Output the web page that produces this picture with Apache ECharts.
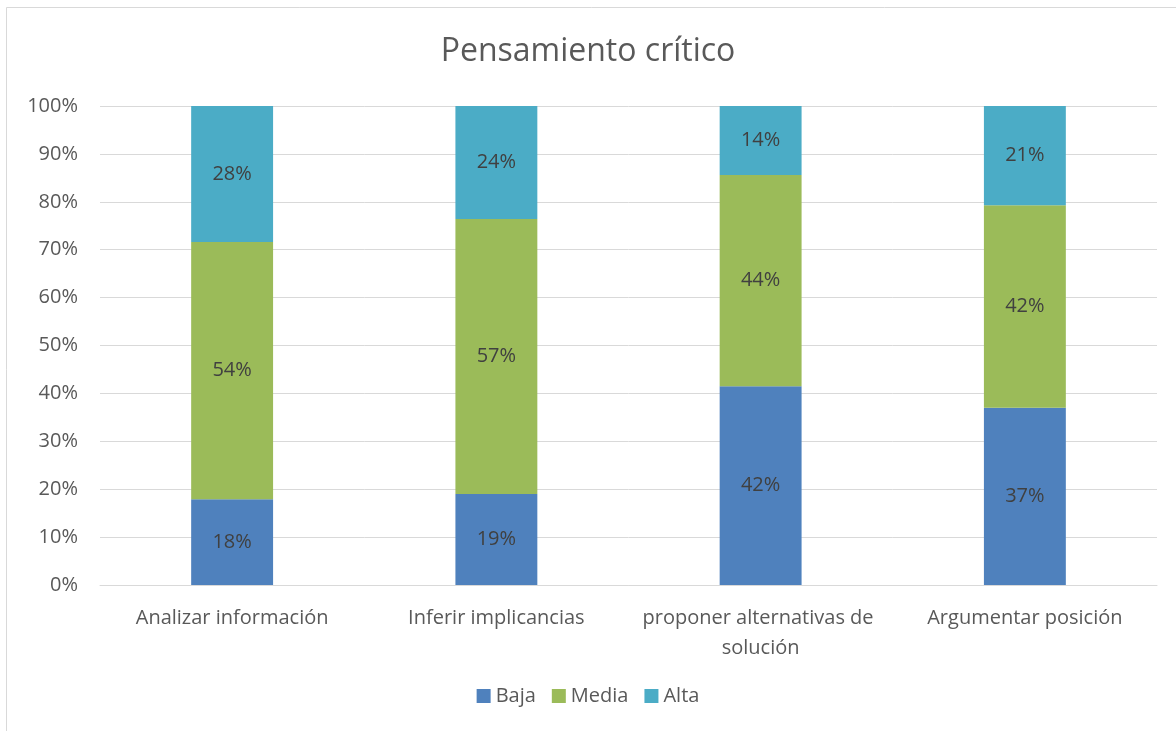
<!DOCTYPE html>
<html>
<head>
<meta charset="utf-8">
<script src="https://cdn.jsdelivr.net/npm/echarts@6/dist/echarts.min.js"></script>
<style>
  html, body { margin: 0; padding: 0; background: #fff; }
  #chart { width: 1176px; height: 731px; }
</style>
</head>
<body>
<div id="chart"></div>
<script>
var categories = ['Analizar información', 'Inferir implicancias', 'proponer alternativas de solución', 'Argumentar posición'];
var baja = [17.9, 19.0, 41.5, 37.0];
var media = [53.7, 57.4, 44.1, 42.3];
var alta = [28.4, 23.6, 14.4, 20.7];
var yTicks = [0, 10, 20, 30, 40, 50, 60, 70, 80, 90, 100];

var font = '"Open Sans", "Liberation Sans", sans-serif';

var chart = echarts.init(document.getElementById('chart'));

function barSeries(name, data, color) {
    return {
        name: name,
        type: 'bar',
        stack: 'total',
        barWidth: '31%',
        data: data,
        itemStyle: { color: color },
        label: {
            show: true,
            position: 'inside',
            color: '#404040',
            fontSize: 20,
            fontFamily: font,
            formatter: function (p) { return Math.round(p.value) + '%'; }
        }
    };
}

var option = {
    backgroundColor: '#fff',
    animation: false,
    title: {
        text: 'Pensamiento crítico',
        left: 'center',
        top: 31,
        textStyle: { color: '#595959', fontSize: 32, fontWeight: 'normal', fontFamily: font }
    },
    legend: {
        bottom: 20,
        left: 'center',
        itemWidth: 14,
        itemHeight: 14,
        itemGap: 16,
        icon: 'rect',
        textStyle: { color: '#595959', fontSize: 20, fontFamily: font },
        data: ['Baja', 'Media', 'Alta']
    },
    grid: { left: 100, right: 19, top: 106, bottom: 146 },
    xAxis: {
        type: 'category',
        data: categories,
        axisTick: { show: false },
        axisLine: { lineStyle: { color: '#d9d9d9', width: 1 } },
        axisLabel: {
            interval: 0,
            color: '#595959',
            fontSize: 20,
            fontFamily: font,
            margin: 18,
            width: 262,
            overflow: 'break',
            lineHeight: 30
        }
    },
    yAxis: {
        type: 'value',
        min: 0,
        max: 100,
        interval: 10,
        axisLine: { show: false },
        axisTick: { show: false },
        splitLine: { lineStyle: { color: '#d9d9d9', width: 1 } },
        axisLabel: {
            color: '#595959',
            fontSize: 20,
            fontFamily: font,
            margin: 22,
            formatter: function (v) { return yTicks.indexOf(v) >= 0 ? v + '%' : ''; }
        }
    },
    graphic: [{
        type: 'rect',
        shape: { x: 6.5, y: 7.5, width: 1200, height: 800 },
        style: { fill: 'none', stroke: '#d9d9d9', lineWidth: 1 },
        silent: true
    }],
    series: [
        barSeries('Baja', baja, '#4f81bd'),
        barSeries('Media', media, '#9bbb59'),
        barSeries('Alta', alta, '#4bacc6')
    ]
};
chart.setOption(option);
</script>
</body>
</html>
